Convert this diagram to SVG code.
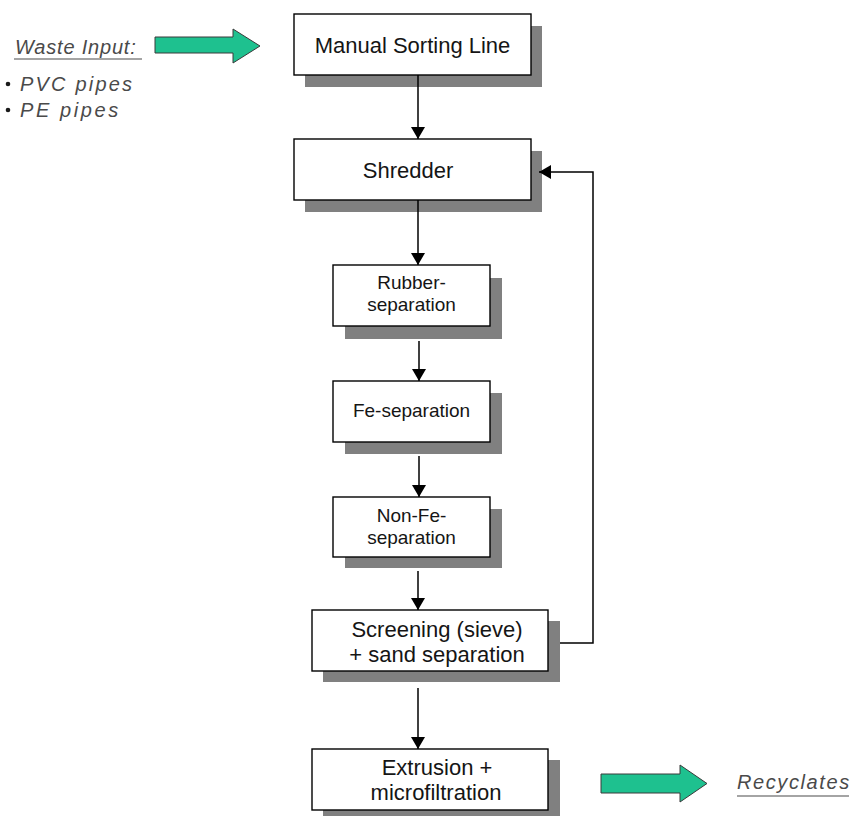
<svg xmlns="http://www.w3.org/2000/svg" width="853" height="816" viewBox="0 0 853 816">
  <defs>
    <style>
      .box { fill: #ffffff; stroke: #000000; stroke-width: 1.4; }
      .shadow { fill: #808080; }
      .label { font-family: "Liberation Sans", Arial, sans-serif; fill: #151515; text-anchor: middle; }
      .big { font-size: 22px; }
      .small { font-size: 19px; }
      .note { font-family: "Liberation Sans", Arial, sans-serif; font-style: italic; fill: #4a4a4a; font-size: 20px; }
      .flow { fill: none; stroke: #000000; stroke-width: 1.5; }
      .bigarrow { fill: #1ec18f; stroke: #3a3a3a; stroke-width: 1; }
    </style>
    <marker id="head" viewBox="0 0 12 14" refX="12" refY="7" markerWidth="12" markerHeight="14" markerUnits="userSpaceOnUse" orient="auto">
      <path d="M0,0 L12,7 L0,14 Z" fill="#000000"/>
    </marker>
  </defs>

  <rect width="853" height="816" fill="#ffffff"/>

  <!-- input annotation -->
  <g id="waste-input">
    <text class="note" x="15" y="54" letter-spacing="0.8">Waste Input:</text>
    <line x1="14" y1="59" x2="142" y2="59" stroke="#4a4a4a" stroke-width="1.2"/>
    <circle cx="8" cy="84" r="2.3" fill="#1a1a1a"/>
    <text class="note" x="20" y="91" letter-spacing="2.2">PVC pipes</text>
    <circle cx="8" cy="110" r="2.3" fill="#1a1a1a"/>
    <text class="note" x="20" y="117" letter-spacing="2.6">PE pipes</text>
  </g>

  <g id="input-arrow">
    <polygon class="bigarrow" points="155,37 233,37 233,29 260,46 233,63 233,53 155,53"/>
  </g>

  <!-- process steps -->
  <g id="manual-sorting">
    <rect class="shadow" x="305" y="26" width="237" height="61"/>
    <rect class="box" x="294" y="14" width="237" height="61"/>
    <text class="label big" x="412.5" y="53">Manual Sorting Line</text>
  </g>

  <g id="shredder">
    <rect class="shadow" x="305" y="151" width="237" height="61"/>
    <rect class="box" x="294" y="139" width="237" height="61"/>
    <text class="label big" x="408" y="178">Shredder</text>
  </g>

  <g id="rubber-separation">
    <rect class="shadow" x="345" y="278" width="157" height="61"/>
    <rect class="box" x="333" y="265" width="157" height="61"/>
    <text class="label small" x="411.5" y="289">Rubber-</text>
    <text class="label small" x="411.5" y="311">separation</text>
  </g>

  <g id="fe-separation">
    <rect class="shadow" x="345" y="393" width="157" height="61"/>
    <rect class="box" x="333" y="381" width="157" height="61"/>
    <text class="label small" x="411.5" y="417">Fe-separation</text>
  </g>

  <g id="non-fe-separation">
    <rect class="shadow" x="345" y="509" width="157" height="59"/>
    <rect class="box" x="333" y="497" width="157" height="60"/>
    <text class="label small" x="411.5" y="522">Non-Fe-</text>
    <text class="label small" x="411.5" y="544">separation</text>
  </g>

  <g id="screening">
    <rect class="shadow" x="323" y="621" width="237" height="61"/>
    <rect class="box" x="312" y="610" width="236" height="61"/>
    <text class="label big" x="437" y="637">Screening (sieve)</text>
    <text class="label big" x="437" y="662">+ sand separation</text>
  </g>

  <g id="extrusion">
    <rect class="shadow" x="323" y="760" width="237" height="61"/>
    <rect class="box" x="312" y="749" width="236" height="61"/>
    <text class="label big" x="437" y="775">Extrusion +</text>
    <text class="label big" x="436" y="800">microfiltration</text>
  </g>

  <!-- output annotation -->
  <g id="output-arrow">
    <polygon class="bigarrow" points="601,774 680,774 680,765 707,783.5 680,802 680,793 601,793"/>
  </g>

  <g id="recyclates">
    <text class="note" x="737" y="789" letter-spacing="1.6">Recyclates</text>
    <line x1="737" y1="796" x2="849" y2="796" stroke="#4a4a4a" stroke-width="1.2"/>
  </g>

  <!-- connectors -->
  <g id="connectors">
    <line class="flow" x1="418" y1="75" x2="418" y2="139" marker-end="url(#head)"/>
    <line class="flow" x1="418" y1="200" x2="418" y2="265" marker-end="url(#head)"/>
    <line class="flow" x1="419" y1="341" x2="419" y2="381" marker-end="url(#head)"/>
    <line class="flow" x1="419" y1="456" x2="419" y2="497" marker-end="url(#head)"/>
    <line class="flow" x1="418" y1="571" x2="418" y2="610" marker-end="url(#head)"/>
    <line class="flow" x1="418" y1="688" x2="418" y2="749" marker-end="url(#head)"/>
    <polyline class="flow" points="560,643 593,643 593,172 539,172" marker-end="url(#head)"/>
  </g>
</svg>
